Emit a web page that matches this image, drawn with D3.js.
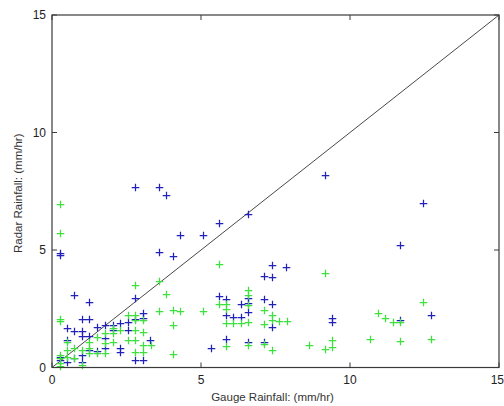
<!DOCTYPE html>
<html><head><meta charset="utf-8">
<script src="https://cdn.jsdelivr.net/npm/d3@7"></script>
<style>html,body{margin:0;padding:0;background:#fff;}svg{display:block;}</style>
</head><body>
<svg id="chart" width="504" height="406"></svg>
<script>
const xTicks = [0, 5, 10, 15];
const yTicks = [0, 5, 10, 15];
const xLabel = "Gauge Rainfall: (mm/hr)";
const yLabel = "Radar Rainfall: (mm/hr)";

const blueX = [2.80,3.58,3.83,9.16,12.46,6.59,5.59,4.31,5.07,0.27,0.27,3.58,4.06,11.68,7.39,7.85,7.11,7.39,0.75,1.25,2.80,5.59,5.84,6.59,6.59,6.34,7.11,7.39,12.72,9.38,9.38,11.68,3.06,3.06,5.84,6.09,6.34,6.59,1.00,1.25,0.49,0.75,1.00,1.00,1.25,1.50,1.79,2.06,2.28,2.54,2.54,2.80,0.49,3.29,1.25,1.50,1.79,2.28,2.28,2.80,3.06,5.84,6.59,7.11,7.39,5.32,0.27,0.27,0.49,0.75,1.00,1.00,1.79,2.06];
const blueY = [7.67,7.67,7.35,8.18,7.00,6.52,6.16,5.64,5.64,4.89,4.80,4.90,4.76,5.20,4.36,4.29,3.89,3.84,3.07,2.79,2.97,3.04,2.90,2.97,2.76,2.69,2.90,2.70,2.23,2.09,1.95,2.02,2.30,2.09,2.23,2.16,2.16,2.38,2.05,2.05,1.70,1.55,1.55,1.34,1.34,1.74,1.81,1.81,1.88,1.95,1.60,2.05,1.17,1.17,0.74,0.72,0.82,0.82,0.67,0.32,0.32,1.20,1.10,1.10,1.74,0.84,0.46,0.32,0.25,0.39,0.25,0.53,1.24,1.60];

const greenX = [0.27,0.27,5.59,9.16,3.58,2.80,3.83,6.59,6.59,12.46,5.59,5.84,5.84,6.59,7.11,3.58,4.06,4.31,5.07,10.93,11.19,11.43,11.68,0.27,0.27,4.06,5.84,6.09,6.34,6.59,7.11,7.39,7.39,7.63,7.87,10.67,12.72,11.68,9.38,9.38,9.16,8.64,7.39,7.11,6.59,5.84,4.06,2.80,2.80,2.80,2.80,2.80,3.06,3.06,3.06,3.06,2.54,2.54,2.28,2.06,1.79,1.79,1.79,1.50,1.50,1.25,1.25,1.25,1.00,1.00,0.75,0.75,0.49,0.49,0.27,0.27,0.27,0.27,3.31,2.06,2.06,0.49];
const greenY = [6.96,5.74,4.40,4.01,3.68,3.51,3.11,3.30,3.09,2.79,2.69,2.69,2.48,2.66,2.45,2.40,2.45,2.40,2.40,2.30,2.09,1.95,1.95,2.05,1.96,1.81,1.88,1.88,1.88,1.95,1.85,2.23,2.02,1.99,1.99,1.21,1.21,1.13,1.17,0.86,0.79,0.94,0.74,1.00,0.96,0.91,0.56,2.23,2.02,1.60,1.17,0.67,2.02,1.52,0.96,0.67,2.23,1.17,1.60,1.67,1.45,1.03,0.60,1.31,0.60,1.10,0.82,0.60,0.74,0.11,0.82,0.39,1.10,0.74,0.53,0.39,0.18,0.06,0.96,1.10,1.45,0.46];

const svg = d3.select("#chart");
const L = 52, R = 499, T = 15, B = 367.5;
const x = d3.scaleLinear().domain([0, 15]).range([L, R]);
const y = d3.scaleLinear().domain([0, 15]).range([B, T]);
const font = "'Liberation Sans', Arial, sans-serif";
const frameColor = "#3a3a3a";
const tickLen = 5;

// diagonal 1:1 line
svg.append("line")
  .attr("x1", x(0)).attr("y1", y(0)).attr("x2", x(15)).attr("y2", y(15))
  .attr("stroke", "#333").attr("stroke-width", 0.9);

function drawCrosses(xs, ys, color) {
  const g = svg.append("g").attr("stroke", color).attr("stroke-width", 1.25).attr("fill", "none");
  const pts = xs.map((v, i) => [v, ys[i]]);
  const s = 3.8;
  g.selectAll("path").data(pts).enter().append("path")
    .attr("d", d => {
      const cx = Math.round(x(d[0])) + 0.5, cy = Math.round(y(d[1])) + 0.5;
      return `M${cx - s},${cy}H${cx + s}M${cx},${cy - s}V${cy + s}`;
    });
}
drawCrosses(blueX, blueY, "#2222b8");
drawCrosses(greenX, greenY, "#3ee03e");

// frame
svg.append("rect").attr("x", L).attr("y", T).attr("width", R - L).attr("height", B - T)
  .attr("fill", "none").attr("stroke", frameColor).attr("stroke-width", 1.2);

// inner ticks on all four sides
const xa = svg.append("g").attr("stroke", frameColor).attr("stroke-width", 1);
xTicks.forEach(t => {
  xa.append("line").attr("x1", x(t)).attr("x2", x(t)).attr("y1", B).attr("y2", B - tickLen);
  xa.append("line").attr("x1", x(t)).attr("x2", x(t)).attr("y1", T).attr("y2", T + tickLen);
});
yTicks.forEach(t => {
  xa.append("line").attr("y1", y(t)).attr("y2", y(t)).attr("x1", L).attr("x2", L + tickLen);
  xa.append("line").attr("y1", y(t)).attr("y2", y(t)).attr("x1", R).attr("x2", R - tickLen);
});

// tick labels (last x label kept inside the canvas)
svg.append("g").selectAll("text").data(xTicks).enter().append("text")
  .attr("x", d => d === 15 ? 504 : x(d)).attr("y", 383.5)
  .attr("text-anchor", d => d === 15 ? "end" : "middle")
  .attr("font-family", font).attr("font-size", 12).attr("fill", "#222").text(d => d);
svg.append("g").selectAll("text").data(yTicks).enter().append("text")
  .attr("x", 46).attr("y", d => y(d) + 4.3).attr("text-anchor", "end")
  .attr("font-family", font).attr("font-size", 12).attr("fill", "#222").text(d => d);

// axis labels
svg.append("text").attr("x", (L + R) / 2 - 3).attr("y", 401).attr("text-anchor", "middle")
  .attr("font-family", font).attr("font-size", 11.5).attr("fill", "#333").text(xLabel);
svg.append("text").attr("transform", `translate(22,${(T + B) / 2 + 2}) rotate(-90)`)
  .attr("text-anchor", "middle")
  .attr("font-family", font).attr("font-size", 11.5).attr("fill", "#333").text(yLabel);
</script>
</body></html>
